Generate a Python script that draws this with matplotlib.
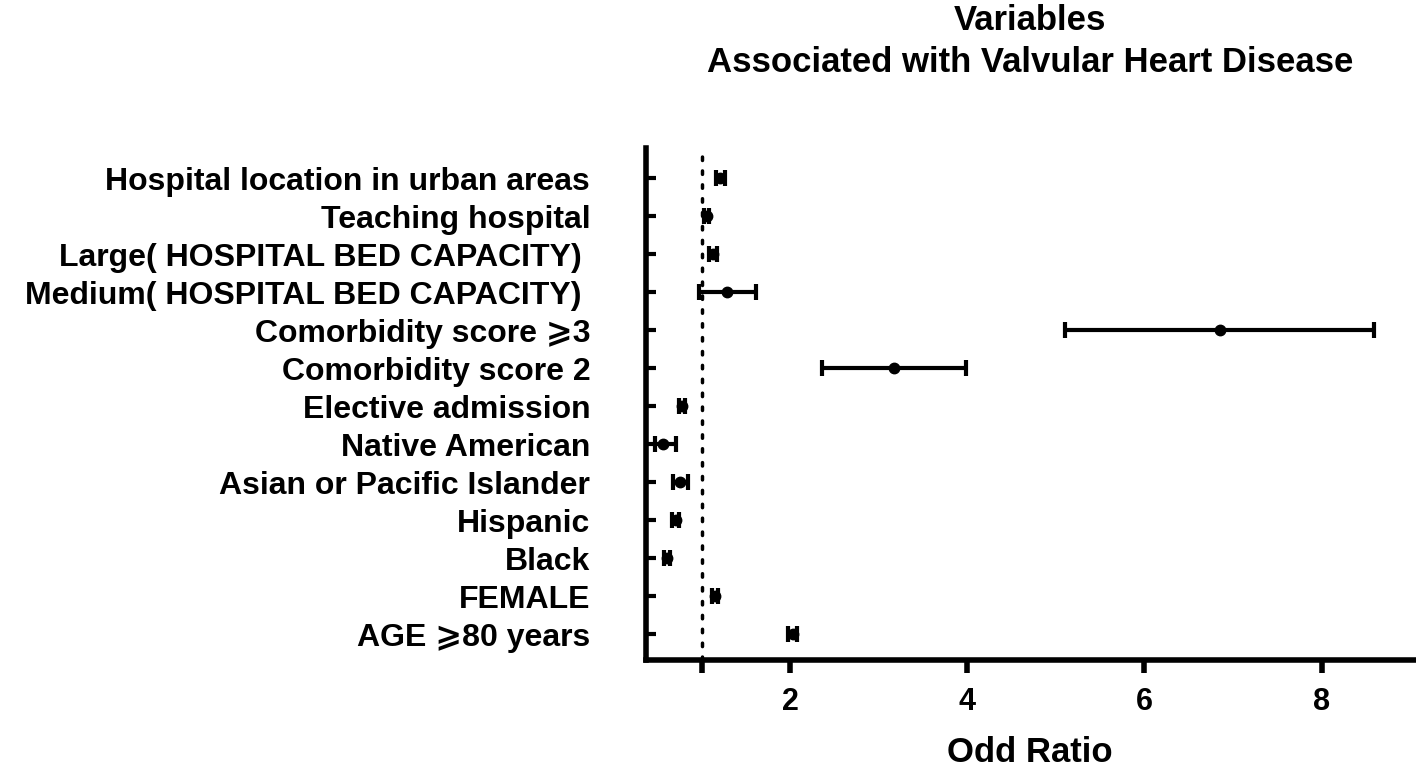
import matplotlib
matplotlib.use("Agg")
import matplotlib.pyplot as plt

variables = [
    "Hospital location in urban areas",
    "Teaching hospital",
    "Large( HOSPITAL BED CAPACITY) ",
    "Medium( HOSPITAL BED CAPACITY) ",
    "Comorbidity score \u2a7e3",
    "Comorbidity score 2",
    "Elective admission",
    "Native American",
    "Asian or Pacific Islander",
    "Hispanic",
    "Black",
    "FEMALE",
    "AGE \u2a7e80 years",
]
odds_ratio = [1.21, 1.06, 1.13, 1.29, 6.85, 3.17, 0.78, 0.57, 0.76, 0.71, 0.61, 1.15, 2.03]
ci_lower = [1.16, 1.03, 1.09, 0.97, 5.10, 2.36, 0.75, 0.47, 0.68, 0.67, 0.58, 1.12, 1.98]
ci_upper = [1.26, 1.09, 1.17, 1.61, 8.59, 3.99, 0.81, 0.71, 0.85, 0.75, 0.64, 1.19, 2.08]
x_ticks = [1, 2, 4, 6, 8]
x_tick_labels = ["", "2", "4", "6", "8"]
title_lines = ["Variables", "Associated with Valvular Heart Disease"]

fam = ["Liberation Sans", "DejaVu Sans", "Noto Sans CJK SC"]
plt.rcParams["font.family"] = fam
plt.rcParams["font.weight"] = "bold"

fig = plt.figure(figsize=(14.16, 7.73), dpi=100)
ax = fig.add_axes([0.456, 0.146, 0.543, 0.6625])

n = len(variables)
ypos = list(range(n - 1, -1, -1))
xerr_low = [o - l for o, l in zip(odds_ratio, ci_lower)]
xerr_high = [u - o for o, u in zip(odds_ratio, ci_upper)]

ax.axvline(1, color="black", linestyle=(0, (1, 3)), linewidth=2.5,
           dash_capstyle="round", zorder=1)
ax.errorbar(odds_ratio, ypos, xerr=[xerr_low, xerr_high], fmt="o",
            color="black", markersize=7.5, elinewidth=3, capsize=6,
            capthick=3, zorder=3)

ax.set_xlim(0.37, 9.05)
ax.set_ylim(-0.684, n - 1 + 0.79)
ax.set_yticks(ypos)
ax.set_yticklabels(variables, fontsize=23, fontweight="bold")
ax.set_xticks(x_ticks)
ax.set_xticklabels(x_tick_labels, fontsize=22, fontweight="bold")

for s in ["top", "right"]:
    ax.spines[s].set_visible(False)
for s in ["left", "bottom"]:
    ax.spines[s].set_linewidth(4)
ax.tick_params(axis="y", direction="in", length=7, width=3, pad=40)
ax.tick_params(axis="x", direction="out", length=9, width=4, pad=10)

ax.set_xlabel("Odd Ratio", fontsize=25, fontweight="bold", labelpad=14)

x_center = 0.456 + 0.543 / 2
fig.text(x_center, 1 - 20 / 773, title_lines[0], ha="center", va="center",
         fontsize=25, fontweight="bold")
fig.text(x_center, 1 - 62 / 773, title_lines[1], ha="center", va="center",
         fontsize=25, fontweight="bold")

fig.savefig("out.png", dpi=100)
